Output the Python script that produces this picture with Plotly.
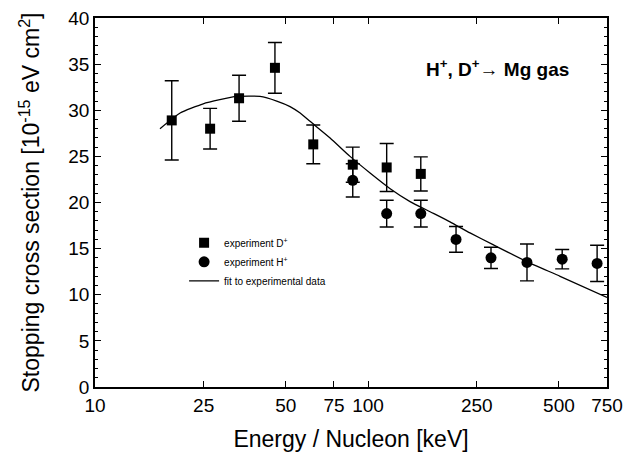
import plotly.graph_objects as go

# D+ experiment (squares)
d_energy = [19.1, 26.4, 33.7, 45.6, 63.0, 87.9, 117.0, 156.0]
d_value = [28.9, 28.0, 31.3, 34.6, 26.3, 24.1, 23.8, 23.1]
d_error = [4.3, 2.2, 2.5, 2.75, 2.1, 1.9, 2.6, 1.85]

# H+ experiment (circles)
h_energy = [87.9, 117.0, 156.0, 210.0, 282.0, 382.0, 514.0, 690.0]
h_value = [22.4, 18.8, 18.8, 16.0, 14.0, 13.5, 13.85, 13.4]
h_error = [1.8, 1.45, 1.45, 1.4, 1.15, 2.0, 1.05, 1.97]

# fit curve
fit_energy = [17.3, 20.5, 24.9, 33.0, 40.2, 46.3, 51.8, 56.4, 61.3, 72.6, 85.9,
              101.7, 120.5, 142.5, 168.7, 199.6, 236.3, 288, 381, 505, 750]
fit_value = [28.0, 29.7, 30.7, 31.5, 31.5, 31.0, 30.4, 29.7, 28.8, 27.0, 25.0,
             23.2, 21.5, 20.1, 19.0, 17.9, 16.7, 15.4, 13.6, 12.0, 9.7]

x_ticks = [10, 25, 50, 75, 100, 250, 500, 750]
x_ticktext = ["10", "25", "50", "75", "100", "250", "500", "750"]
y_ticks = [0, 5, 10, 15, 20, 25, 30, 35, 40]

FONT = "Liberation Sans, Arial, sans-serif"

fig = go.Figure()
fig.add_trace(go.Scatter(
    x=d_energy, y=d_value, mode="markers", name="experiment D<sup>+</sup>",
    marker=dict(symbol="square", size=10, color="black"),
    error_y=dict(type="data", array=d_error, visible=True, color="black",
                 thickness=1.4, width=7),
))
fig.add_trace(go.Scatter(
    x=h_energy, y=h_value, mode="markers", name="experiment H<sup>+</sup>",
    marker=dict(symbol="circle", size=11, color="black"),
    error_y=dict(type="data", array=h_error, visible=True, color="black",
                 thickness=1.4, width=7),
))
fig.add_trace(go.Scatter(
    x=fit_energy, y=fit_value, mode="lines", name="fit to experimental data",
    line=dict(color="black", width=1.3, shape="spline", smoothing=0.5),
))

fig.add_annotation(
    x=0.787, y=0.865, xref="paper", yref="paper", showarrow=False,
    xanchor="center", yanchor="middle",
    text="<b>H<sup>+</sup>, D<sup>+</sup>\u2192 Mg gas</b>",
    font=dict(family=FONT, size=19, color="black"),
)

fig.update_layout(
    width=634, height=452,
    margin=dict(l=95, r=27, t=18, b=65, autoexpand=False),
    paper_bgcolor="white", plot_bgcolor="white",
    font=dict(family=FONT, color="black"),
    showlegend=True,
    legend=dict(x=0.174, y=0.43, xanchor="left", yanchor="top",
                bgcolor="rgba(0,0,0,0)", font=dict(size=10, family=FONT),
                tracegroupgap=0),
)
fig.update_xaxes(
    type="log", range=[1, 2.8750613], tickvals=x_ticks, ticktext=x_ticktext,
    ticks="inside", ticklen=6, tickwidth=1, tickcolor="black",
    showline=True, linecolor="black", linewidth=1.5, mirror="allticks",
    showgrid=False, zeroline=False, automargin=False,
    tickfont=dict(size=19, family=FONT),
    title=dict(text="Energy / Nucleon [keV]", font=dict(size=23, family=FONT), standoff=20),
)
fig.update_yaxes(
    range=[0, 40], tickvals=y_ticks,
    ticks="inside", ticklen=6, tickwidth=1, tickcolor="black",
    minor=dict(ticks="inside", dtick=1, ticklen=3, tickcolor="black"),
    showline=True, linecolor="black", linewidth=1.5, mirror="allticks",
    showgrid=False, zeroline=False, automargin=False,
    tickfont=dict(size=19, family=FONT),
    title=dict(text="Stopping cross section [10<sup>-15</sup> eV cm<sup>2</sup>]",
               font=dict(size=23, family=FONT), standoff=22),
)

fig.write_html("out.html")
